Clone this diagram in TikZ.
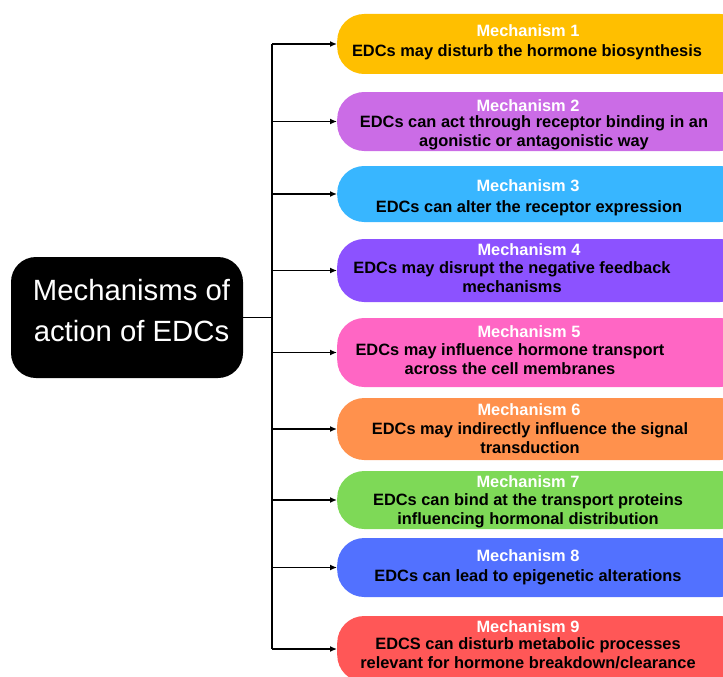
\documentclass[tikz,border=0pt]{standalone}
\usepackage{fontspec}
\setmainfont{Liberation Sans}
\usetikzlibrary{arrows.meta}
\definecolor{mechone}{HTML}{FFBF00}
\definecolor{mechtwo}{HTML}{CB6CE6}
\definecolor{mechthree}{HTML}{38B6FF}
\definecolor{mechfour}{HTML}{8C52FF}
\definecolor{mechfive}{HTML}{FF66C4}
\definecolor{mechsix}{HTML}{FF914D}
\definecolor{mechseven}{HTML}{7ED957}
\definecolor{mecheight}{HTML}{5271FF}
\definecolor{mechnine}{HTML}{FF5757}

\begin{document}
\begin{tikzpicture}[x=1pt,y=-1pt,
            pill/.style={rectangle,rounded corners=27pt,minimum width=410pt,anchor=west,inner sep=0pt},
            head/.style={anchor=base,text=white,font=\fontsize{16.4}{19}\selectfont\bfseries},
            body/.style={anchor=base,align=center,font=\fontsize{16.4}{19}\selectfont\bfseries},
            root/.style={fill=black,rounded corners=25pt,minimum width=232pt,minimum height=121pt},
            rootlabel/.style={anchor=base,text=white,align=center,font=\fontsize{29.3}{41}\selectfont},
            link/.style={line width=1.3pt,-{Latex[length=7pt,width=6pt]}}]
            \useasboundingbox (0,0) rectangle (723,677);
            \clip (0,0) rectangle (723,677);
            \node[root] (root) at (127,317.5) {};
            \node[rootlabel] (title) at (131.5,341) {Mechanisms of\\action of EDCs};
            \node[pill,fill=mechone,minimum height=60pt] (m1) at (337,44) {};
            \node[pill,fill=mechtwo,minimum height=59pt] (m2) at (337,121.5) {};
            \node[pill,fill=mechthree,minimum height=56pt] (m3) at (337,194) {};
            \node[pill,fill=mechfour,minimum height=63pt] (m4) at (337,270.5) {};
            \node[pill,fill=mechfive,minimum height=69pt] (m5) at (337,352.5) {};
            \node[pill,fill=mechsix,minimum height=62pt] (m6) at (337,429) {};
            \node[pill,fill=mechseven,minimum height=58pt] (m7) at (337,500) {};
            \node[pill,fill=mecheight,minimum height=59pt] (m8) at (337,567.5) {};
            \node[pill,fill=mechnine,minimum height=66pt] (m9) at (337,649) {};
            \node[head] (h1) at (528,37) {Mechanism 1};
            \node[body] (b1) at (527,57) {EDCs may disturb the hormone biosynthesis};
            \node[head] (h2) at (528,111) {Mechanism 2};
            \node[body] (b2) at (534,146) {EDCs can act through receptor binding in an\\agonistic or antagonistic way};
            \node[head] (h3) at (528,191) {Mechanism 3};
            \node[body] (b3) at (529,212) {EDCs can alter the receptor expression};
            \node[head] (h4) at (529,255) {Mechanism 4};
            \node[body] (b4) at (512,292) {EDCs may disrupt the negative feedback\\mechanisms};
            \node[head] (h5) at (529,337) {Mechanism 5};
            \node[body] (b5) at (510,374) {EDCs may influence hormone transport\\across the cell membranes};
            \node[head] (h6) at (529,415) {Mechanism 6};
            \node[body] (b6) at (530,453) {EDCs may indirectly influence the signal\\transduction};
            \node[head] (h7) at (528,487) {Mechanism 7};
            \node[body] (b7) at (528,524) {EDCs can bind at the transport proteins\\influencing hormonal distribution};
            \node[head] (h8) at (528,561) {Mechanism 8};
            \node[body] (b8) at (528,581) {EDCs can lead to epigenetic alterations};
            \node[head] (h9) at (528,632) {Mechanism 9};
            \node[body] (b9) at (528,668) {EDCS can disturb metabolic processes\\relevant for hormone breakdown/clearance};
            \coordinate (trunk) at (272,0);
            \draw[line width=1.3pt] (m1.west -| trunk) -- (m9.west -| trunk);
            \draw[line width=1.3pt] (root.east) -- (root.east -| trunk);
            \draw[link] (m1.west -| trunk) -- (m1.west);
            \draw[link] (m2.west -| trunk) -- (m2.west);
            \draw[link] (m3.west -| trunk) -- (m3.west);
            \draw[link] (m4.west -| trunk) -- (m4.west);
            \draw[link] (m5.west -| trunk) -- (m5.west);
            \draw[link] (m6.west -| trunk) -- (m6.west);
            \draw[link] (m7.west -| trunk) -- (m7.west);
            \draw[link] (m8.west -| trunk) -- (m8.west);
            \draw[link] (m9.west -| trunk) -- (m9.west);
        \end{tikzpicture}
\end{document}
